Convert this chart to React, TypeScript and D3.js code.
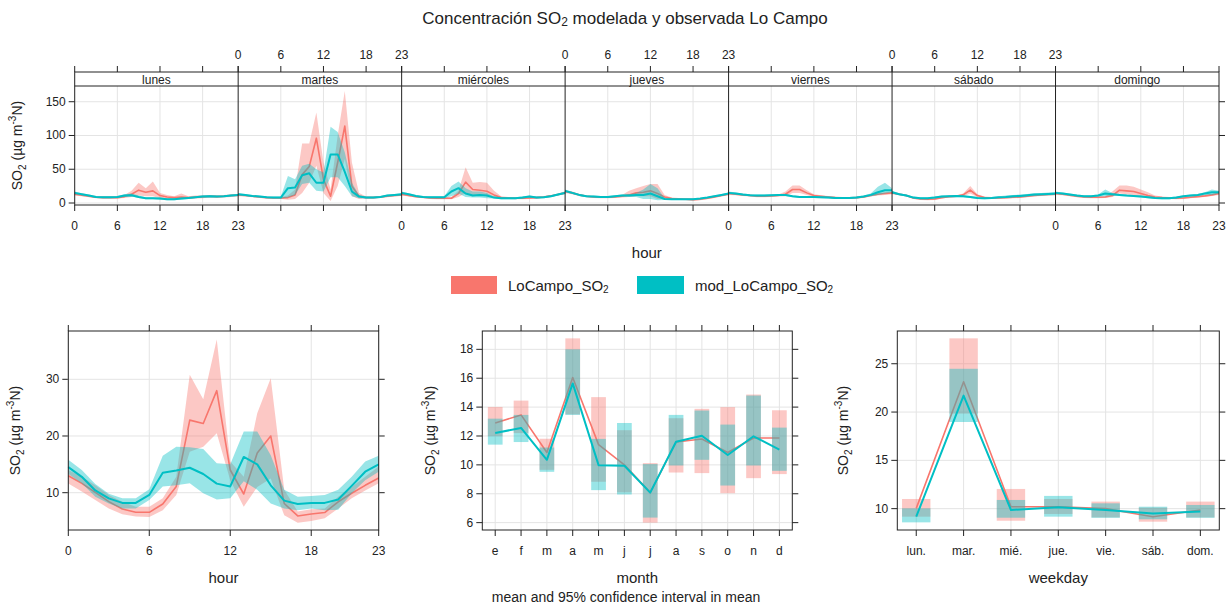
import React from "react";
import * as d3 from "d3";

// ---------------- DATA ----------------
const days = ["lunes", "martes", "miércoles", "jueves", "viernes", "sábado", "domingo"];
const hours = [0, 1, 2, 3, 4, 5, 6, 7, 8, 9, 10, 11, 12, 13, 14, 15, 16, 17, 18, 19, 20, 21, 22, 23];
const hourTicks = [0, 6, 12, 18, 23];
const topYTicks = [0, 50, 100, 150];

// observed (LoCampo_SO2) by weekday x hour
const obsLunes = [13, 11.5, 10, 8.5, 8, 8, 8, 9.5, 13, 19, 16, 18, 11, 9, 8, 9, 8, 8.5, 9, 10, 9.5, 10, 11, 11.5];
const obsLunesLo = [11, 10, 8.5, 7, 6.5, 6.5, 6.5, 7.5, 9, 11, 10, 10, 7, 6.5, 6, 6, 6, 6.5, 7, 8, 7.5, 8, 9, 9.5];
const obsLunesHi = [15, 13, 11.5, 10, 9.5, 9.5, 9.5, 12, 18, 30, 22, 32, 15, 12, 10, 14, 10, 11, 11.5, 12, 11.5, 12, 13, 13.5];
const obsMartes = [12, 11, 10, 9, 8, 7.5, 7.5, 8, 12, 42, 54, 96, 35, 10, 60, 114, 25, 10, 8, 8, 9, 10, 11, 12];
const obsMartesLo = [10, 9.5, 8.5, 7.5, 6.5, 6, 6, 5, 6, 15, 30, 55, 15, 3, 25, 65, 10, 6, 6.5, 6.5, 7.5, 8.5, 9.5, 10.5];
const obsMartesHi = [14, 12.5, 11.5, 10.5, 9.5, 9, 9, 11, 20, 88, 88, 134, 60, 20, 100, 166, 60, 15, 9.5, 9.5, 10.5, 11.5, 12.5, 13.5];
const obsMiercoles = [13, 11, 9.5, 8.5, 7.5, 7, 7, 7, 14, 31, 20, 19, 17.5, 12, 8, 7.5, 7, 7, 7.5, 8, 9, 10.5, 12.5, 15];
const obsMiercolesLo = [11, 9.5, 8, 7, 6, 5.5, 5.5, 5.5, 9, 15, 12, 12, 10, 7, 6, 6, 5.5, 5.5, 6, 6.5, 7.5, 9, 11, 13];
const obsMiercolesHi = [15, 12.5, 11, 10, 9, 8.5, 8.5, 9, 18, 53, 30, 31, 30, 18, 10, 9, 8.5, 8.5, 9, 9.5, 10.5, 12, 14, 17];
const obsJueves = [17, 15, 12, 10, 9, 8.5, 8.5, 9, 10, 12, 15, 16, 18, 14, 9, 6.5, 6, 5.5, 5, 5.5, 7, 9, 11, 13];
const obsJuevesLo = [15, 13, 10.5, 8.5, 7.5, 7, 7, 7.5, 8, 9, 10, 10, 10, 6, 6, 5, 4.5, 4, 3.5, 4, 5.5, 7.5, 9.5, 11.5];
const obsJuevesHi = [19, 17, 13.5, 11.5, 10.5, 10, 10, 10.5, 12, 18, 22, 25, 28, 28, 12, 8, 7.5, 7, 6.5, 7, 8.5, 10.5, 12.5, 14.5];
const obsViernes = [14, 13, 12, 11, 10, 10, 10.5, 11, 13, 20, 20, 15, 11, 10, 9, 8, 7.5, 7.5, 8, 9, 11, 13, 14, 15];
const obsViernesLo = [12, 11.5, 10.5, 9.5, 8.5, 8.5, 9, 9.5, 10, 15, 15, 12, 9, 8.5, 7.5, 6.5, 6, 6, 6.5, 7.5, 9.5, 11, 12, 13];
const obsViernesHi = [16, 14.5, 13.5, 12.5, 11.5, 11.5, 12, 12.5, 17, 26, 26, 19, 13, 11.5, 10.5, 9.5, 9, 9, 9.5, 10.5, 12.5, 15, 16, 17];
const obsSabado = [15, 13, 11, 7.5, 6, 5.5, 6, 8, 9.5, 10, 12, 19, 11, 8, 7.5, 7.5, 8, 8.5, 9, 10, 11, 12, 12.5, 13];
const obsSabadoLo = [13, 11.5, 9.5, 6, 4.5, 4, 4.5, 6.5, 8, 8.5, 10, 14, 9, 6.5, 6, 6, 6.5, 7, 7.5, 8.5, 9.5, 10.5, 11, 11.5];
const obsSabadoHi = [17, 14.5, 12.5, 9, 7.5, 7, 7.5, 9.5, 11, 11.5, 14, 25, 13, 9.5, 9, 9, 9.5, 10, 10.5, 11.5, 12.5, 13.5, 14, 14.5];
const obsDomingo = [14, 13, 11.5, 10, 9, 8.5, 8.5, 9, 11, 19, 18, 17, 14, 11, 9, 8, 7.5, 7, 7.5, 8.5, 9.5, 10.5, 12, 14];
const obsDomingoLo = [12, 11.5, 10, 8.5, 7.5, 7, 7, 7.5, 9, 14, 13, 12, 10, 8.5, 7.5, 6.5, 6, 5.5, 6, 7, 8, 9, 10.5, 12];
const obsDomingoHi = [16, 14.5, 13, 11.5, 10.5, 10, 10, 10.5, 17, 26, 26, 24, 20, 16, 11, 9.5, 9, 8.5, 9, 10, 11, 12, 13.5, 16];

// modelled (mod_LoCampo_SO2) by weekday x hour
const modLunes = [15, 13, 11, 9, 8.5, 8.5, 9, 11, 11.5, 9, 7, 7, 6.5, 5.5, 5.5, 6.5, 7.5, 8.5, 9.5, 10, 9.5, 10, 11, 12];
const modLunesLo = [13, 11.5, 9.5, 7.5, 7, 7, 7.5, 9, 9.5, 7.5, 5.5, 5.5, 5, 4, 4, 5, 6, 7, 8, 8.5, 8, 8.5, 9.5, 10.5];
const modLunesHi = [17, 14.5, 12.5, 10.5, 10, 10, 10.5, 13, 14, 11, 8.5, 8.5, 8, 7, 7, 8, 9, 10, 11.5, 12, 11, 11.5, 12.5, 13.5];
const modMartes = [13, 12, 10.5, 9.5, 8.5, 8, 8, 22, 23, 41, 44, 30, 30, 72, 72, 46, 17, 9.5, 8, 8, 9, 11, 12, 13];
const modMartesLo = [11.5, 10.5, 9, 8, 7, 6.5, 6.5, 8, 12, 28, 30, 18, 17, 38, 38, 25, 10, 7, 6.5, 6.5, 7.5, 9.5, 10.5, 11.5];
const modMartesHi = [14.5, 13.5, 12, 11, 10, 9.5, 9.5, 40, 35, 55, 58, 50, 45, 113, 105, 75, 30, 12, 9.5, 9.5, 10.5, 12.5, 13.5, 14.5];
const modMiercoles = [15, 13, 10.5, 9, 8.5, 8.5, 8.5, 17, 22, 14, 11, 12, 11, 8, 7, 7, 7, 8, 9.5, 8, 8.5, 10, 12.5, 15];
const modMiercolesLo = [13, 11.5, 9, 7.5, 7, 7, 7, 10, 14, 9, 8, 8, 7, 6.5, 5.5, 5.5, 5.5, 6.5, 8, 6.5, 7, 8.5, 11, 13];
const modMiercolesHi = [17, 14.5, 12, 10.5, 10, 10, 10, 25, 32, 22, 17, 17, 15, 9.5, 8.5, 8.5, 8.5, 9.5, 11, 9.5, 10, 11.5, 14, 17];
const modJueves = [18, 15, 12, 10, 9.5, 9, 9, 10, 11, 11, 12, 12, 14, 10, 6, 5.5, 5.5, 5.5, 5.5, 6.5, 8, 10, 12, 14];
const modJuevesLo = [16, 13.5, 10.5, 8.5, 8, 7.5, 7.5, 8.5, 9.5, 9, 9, 6, 6, 4, 4.5, 4.5, 4.5, 4.5, 4.5, 5.5, 7, 8.5, 10.5, 12.5];
const modJuevesHi = [20, 16.5, 13.5, 11.5, 11, 10.5, 10.5, 11.5, 12.5, 13, 15, 20, 28, 22, 7.5, 6.5, 6.5, 6.5, 6.5, 7.5, 9, 11.5, 13.5, 15.5];
const modViernes = [15, 14, 12.5, 11.5, 11, 11, 11.5, 12, 12, 10, 9, 9, 9, 8.5, 8, 7.5, 7.5, 7.5, 8, 9.5, 12, 16, 19, 19];
const modViernesLo = [13, 12.5, 11, 10, 9.5, 9.5, 10, 10.5, 10.5, 8.5, 7.5, 7.5, 7.5, 7, 6.5, 6, 6, 6, 6.5, 8, 10, 12, 14, 16];
const modViernesHi = [17, 15.5, 14, 13, 12.5, 12.5, 13, 13.5, 13.5, 11.5, 10.5, 10.5, 10.5, 10, 9.5, 9, 9, 9, 9.5, 11, 14, 24, 30, 22];
const modSabado = [16, 13, 11, 8, 7, 7, 8, 9.5, 10, 10.5, 10, 9, 7.5, 7, 7.5, 8.5, 9, 10, 10.5, 11.5, 12.5, 13, 13.5, 14];
const modSabadoLo = [14, 11.5, 9.5, 6.5, 5.5, 5.5, 6.5, 8, 8.5, 9, 8.5, 7.5, 6, 5.5, 6, 7, 7.5, 8, 8.5, 9.5, 10.5, 11, 11.5, 12];
const modSabadoHi = [18, 14.5, 12.5, 9.5, 8.5, 8.5, 9.5, 11, 11.5, 12, 11.5, 10.5, 9, 8.5, 9, 10, 11, 12, 12.5, 13.5, 14.5, 15, 15.5, 16];
const modDomingo = [15, 14, 12.5, 11, 10, 10, 11, 14, 13, 12, 11, 10.5, 9.5, 8.5, 7.5, 7, 7, 8, 10, 11, 12, 14, 16, 16];
const modDomingoLo = [13, 12.5, 11, 9.5, 8.5, 8.5, 9.5, 10, 11, 10.5, 9.5, 9, 8, 7, 6, 5.5, 5.5, 6.5, 8.5, 9.5, 10.5, 12, 12, 14];
const modDomingoHi = [17, 15.5, 14, 12.5, 11.5, 11.5, 12.5, 20, 15, 13.5, 12.5, 12, 11, 10, 9, 8.5, 8.5, 9.5, 11.5, 12.5, 13.5, 16, 20, 18];

// hourly (all days)
const obsHour = [13.0, 11.65, 10.07, 8.42, 7.13, 6.54, 6.54, 8.0, 11.1, 22.8, 22.2, 28.0, 14.0, 9.77, 17.0, 20.0, 8.1, 5.9, 6.25, 6.5, 8.4, 9.9, 11.3, 12.6];
const obsHourLo = [11.6, 10.2, 8.7, 7.2, 6.2, 5.8, 5.7, 6.9, 9.6, 17.2, 18.1, 20.5, 12.2, 7.5, 11.0, 12.5, 6.0, 4.7, 5.0, 5.5, 7.2, 9.0, 10.4, 11.65];
const obsHourHi = [14.0, 12.8, 11.3, 9.6, 8.4, 7.5, 7.5, 9.0, 12.8, 30.8, 26.5, 37.0, 15.5, 12.8, 24.0, 30.2, 10.5, 6.7, 7.1, 7.2, 9.3, 11.0, 12.8, 14.6];
const modHour = [14.5, 12.8, 10.4, 9.0, 8.2, 8.2, 9.6, 13.5, 13.9, 14.4, 13.3, 11.6, 11.1, 16.3, 15.0, 11.3, 8.6, 8.0, 8.2, 8.2, 8.8, 11.2, 13.7, 15.0];
const modHourLo = [13.3, 11.65, 9.3, 8.1, 7.2, 7.2, 8.7, 11.1, 11.3, 11.65, 9.9, 8.8, 9.0, 12.0, 10.5, 8.1, 7.2, 6.9, 7.2, 6.9, 7.0, 9.9, 12.2, 13.7];
const modHourHi = [15.8, 14.0, 11.55, 9.8, 9.0, 9.0, 10.6, 16.5, 18.1, 18.0, 17.7, 15.2, 15.0, 20.8, 20.8, 16.6, 10.5, 9.3, 9.4, 9.6, 10.5, 12.8, 15.5, 16.5];
const hourYTicks = [10, 20, 30];

// monthly
const months = ["e", "f", "m", "a", "m", "j", "j", "a", "s", "o", "n", "d"];
const obsMonth = [12.9, 13.46, 10.86, 16.05, 11.4, 10.0, 8.08, 11.58, 11.79, 10.86, 11.86, 11.86];
const obsMonthLo = [11.98, 12.2, 9.66, 13.5, 8.83, 8.1, 6.0, 9.47, 9.43, 8.04, 9.08, 9.36];
const obsMonthHi = [14.01, 14.45, 11.81, 18.76, 14.69, 12.4, 10.12, 13.23, 13.88, 14.0, 14.87, 13.78];
const modMonth = [12.2, 12.56, 10.35, 15.64, 9.98, 9.94, 8.08, 11.6, 12.02, 10.68, 11.98, 11.05];
const modMonthLo = [11.4, 11.58, 9.52, 13.46, 8.25, 7.95, 6.35, 9.96, 10.35, 8.57, 9.96, 9.59];
const modMonthHi = [13.2, 13.46, 11.2, 18.0, 11.8, 12.9, 10.05, 13.46, 13.76, 12.79, 14.8, 12.58];
const monthYTicks = [6, 8, 10, 12, 14, 16, 18];

// weekday
const weekdays = ["lun.", "mar.", "mié.", "jue.", "vie.", "sáb.", "dom."];
const obsWd = [10.03, 23.13, 10.2, 10.2, 10.0, 9.17, 9.86];
const obsWdLo = [9.17, 19.84, 8.75, 9.45, 9.1, 8.65, 9.1];
const obsWdHi = [11.0, 27.63, 12.04, 11.0, 10.73, 10.1, 10.73];
const modWd = [9.17, 21.7, 9.86, 10.14, 9.86, 9.5, 9.7];
const modWdLo = [8.58, 18.97, 9.06, 9.17, 9.05, 8.9, 9.05];
const modWdHi = [10.03, 24.48, 10.9, 11.32, 10.55, 10.2, 10.38];
const wdYTicks = [10, 15, 20, 25];

const obsDays = [
  [obsLunes, obsLunesLo, obsLunesHi], [obsMartes, obsMartesLo, obsMartesHi], [obsMiercoles, obsMiercolesLo, obsMiercolesHi],
  [obsJueves, obsJuevesLo, obsJuevesHi], [obsViernes, obsViernesLo, obsViernesHi], [obsSabado, obsSabadoLo, obsSabadoHi],
  [obsDomingo, obsDomingoLo, obsDomingoHi],
];
const modDays = [
  [modLunes, modLunesLo, modLunesHi], [modMartes, modMartesLo, modMartesHi], [modMiercoles, modMiercolesLo, modMiercolesHi],
  [modJueves, modJuevesLo, modJuevesHi], [modViernes, modViernesLo, modViernesHi], [modSabado, modSabadoLo, modSabadoHi],
  [modDomingo, modDomingoLo, modDomingoHi],
];

// ---------------- STYLE ----------------
const FONT = "'Liberation Sans', Arial, Helvetica, sans-serif";
const RED = "#F8766D";
const TEAL = "#00BFC4";
const TXT = "#222";
const AX = "#222";
const GRID = "#e4e4e4";
const FILL_OP = 0.4;

function YLabel({ x, y }: { x: number; y: number }) {
  return (
    <text transform={`translate(${x},${y}) rotate(-90)`} textAnchor="middle" fontSize={14} fill={TXT} fontFamily={FONT}>
      SO<tspan dy={4} fontSize={10}>2</tspan>
      <tspan dy={-4}> (µg m</tspan>
      <tspan dy={-6} fontSize={10}>-3</tspan>
      <tspan dy={6}>N)</tspan>
    </text>
  );
}

function Band({ xs, ys, lo, hi, color }: any) {
  const area = d3.area<number>()
    .x((_, k) => xs(hours[k]))
    .y0((_, k) => ys(lo[k]))
    .y1((_, k) => ys(hi[k]));
  return <path d={area(hours) || ""} fill={color} fillOpacity={FILL_OP} stroke="none" />;
}
function Line({ xs, ys, vals, color, w }: any) {
  const line = d3.line<number>().x((_, k) => xs(hours[k])).y((_, k) => ys(vals[k]));
  return <path d={line(hours) || ""} fill="none" stroke={color} strokeWidth={w} strokeLinejoin="round" />;
}

// ---------------- TOP PANEL ----------------
function TopPanel() {
  const L = 74.7, R = 1219, Y0 = 86, Y1 = 205, ST = 72;
  const pw = (R - L) / 7;
  const ys = d3.scaleLinear().domain([-2.96, 173.3]).range([Y1, Y0]);
  const els: any[] = [];
  days.forEach((d, i) => {
    const xs = d3.scaleLinear().domain([0, 23]).range([L + i * pw, L + (i + 1) * pw]);
    topYTicks.forEach((t) => els.push(<line key={`gh${i}-${t}`} x1={L + i * pw} x2={L + (i + 1) * pw} y1={ys(t)} y2={ys(t)} stroke={GRID} strokeWidth={1} />));
    [6, 12, 18].forEach((t) => els.push(<line key={`gv${i}-${t}`} x1={xs(t)} x2={xs(t)} y1={Y0} y2={Y1} stroke={GRID} strokeWidth={1} />));
    const [om, ol, oh] = obsDays[i];
    const [mm, ml, mh] = modDays[i];
    els.push(<Band key={`ob${i}`} xs={xs} ys={ys} lo={ol} hi={oh} color={RED} />);
    els.push(<Line key={`ol${i}`} xs={xs} ys={ys} vals={om} color={RED} w={1.6} />);
    els.push(<Band key={`mb${i}`} xs={xs} ys={ys} lo={ml} hi={mh} color={TEAL} />);
    els.push(<Line key={`ml${i}`} xs={xs} ys={ys} vals={mm} color={TEAL} w={2} />);
    hourTicks.forEach((t) => {
      els.push(<line key={`tb${i}-${t}`} x1={xs(t)} x2={xs(t)} y1={Y1} y2={Y1 + 6} stroke={AX} />);
      els.push(<line key={`tt${i}-${t}`} x1={xs(t)} x2={xs(t)} y1={ST} y2={ST - 6} stroke={AX} />);
      if (i % 2 === 0)
        els.push(<text key={`lb${i}-${t}`} x={xs(t)} y={Y1 + 21} textAnchor="middle" dominantBaseline="central" fontSize={12} fill={TXT}>{t}</text>);
      else
        els.push(<text key={`lt${i}-${t}`} x={xs(t)} y={ST - 17} textAnchor="middle" dominantBaseline="central" fontSize={12} fill={TXT}>{t}</text>);
    });
    els.push(<text key={`st${i}`} x={L + (i + 0.5) * pw} y={(ST + Y0) / 2 + 0.5} textAnchor="middle" dominantBaseline="central" fontSize={12} fill={TXT}>{d}</text>);
    if (i > 0) els.push(<line key={`sep${i}`} x1={L + i * pw} x2={L + i * pw} y1={ST} y2={Y1} stroke={AX} strokeWidth={1} />);
  });
  topYTicks.forEach((t) => {
    els.push(<line key={`yl${t}`} x1={L - 6} x2={L} y1={ys(t)} y2={ys(t)} stroke={AX} />);
    els.push(<line key={`yr${t}`} x1={R} x2={R + 6} y1={ys(t)} y2={ys(t)} stroke={AX} />);
    els.push(<text key={`ylt${t}`} x={L - 9} y={ys(t)} textAnchor="end" dominantBaseline="central" fontSize={12} fill={TXT}>{t}</text>);
  });
  return (
    <g fontFamily={FONT}>
      {els}
      <rect x={L} y={ST} width={R - L} height={Y1 - ST} fill="none" stroke={AX} strokeWidth={1} />
      <line x1={L} x2={R} y1={Y0} y2={Y0} stroke={AX} />
      <YLabel x={22} y={(Y0 + Y1) / 2} />
      <text x={(L + R) / 2} y={252} textAnchor="middle" dominantBaseline="central" fontSize={15} fill={TXT}>hour</text>
    </g>
  );
}

// ---------------- BOTTOM PANELS ----------------
const BT = 331, BB = 530;

function Frame({ L, R, xTicks, xLabels, xs, ys, yTicks, title, yl }: any) {
  const els: any[] = [];
  yTicks.forEach((t: number) => {
    els.push(<line key={`gh${t}`} x1={L} x2={R} y1={ys(t)} y2={ys(t)} stroke={GRID} />);
    els.push(<line key={`tl${t}`} x1={L - 6} x2={L} y1={ys(t)} y2={ys(t)} stroke={AX} />);
    els.push(<line key={`tr${t}`} x1={R} x2={R + 6} y1={ys(t)} y2={ys(t)} stroke={AX} />);
    els.push(<text key={`yt${t}`} x={L - 9} y={ys(t)} textAnchor="end" dominantBaseline="central" fontSize={12} fill={TXT}>{t}</text>);
  });
  xTicks.forEach((t: number, k: number) => {
    els.push(<line key={`gv${k}`} x1={xs(t)} x2={xs(t)} y1={BT} y2={BB} stroke={GRID} />);
    els.push(<line key={`tb${k}`} x1={xs(t)} x2={xs(t)} y1={BB} y2={BB + 6} stroke={AX} />);
    els.push(<line key={`tt${k}`} x1={xs(t)} x2={xs(t)} y1={BT} y2={BT - 6} stroke={AX} />);
    els.push(<text key={`xt${k}`} x={xs(t)} y={BB + 21} textAnchor="middle" dominantBaseline="central" fontSize={12} fill={TXT}>{xLabels[k]}</text>);
  });
  return (
    <g>
      {els}
      <YLabel x={yl} y={(BT + BB) / 2} />
      <text x={(L + R) / 2} y={577} textAnchor="middle" dominantBaseline="central" fontSize={15} fill={TXT}>{title}</text>
    </g>
  );
}

function HourPanel() {
  const L = 68.3, R = 378.7;
  const xs = d3.scaleLinear().domain([0, 23]).range([L, R]);
  const ys = d3.scaleLinear().domain([3.42, 38.52]).range([BB, BT]);
  return (
    <g fontFamily={FONT}>
      <Frame L={L} R={R} xTicks={hourTicks} xLabels={hourTicks} xs={xs} ys={ys} yTicks={hourYTicks} title="hour" yl={20} />
      <Band xs={xs} ys={ys} lo={obsHourLo} hi={obsHourHi} color={RED} />
      <Line xs={xs} ys={ys} vals={obsHour} color={RED} w={1.6} />
      <Band xs={xs} ys={ys} lo={modHourLo} hi={modHourHi} color={TEAL} />
      <Line xs={xs} ys={ys} vals={modHour} color={TEAL} w={2} />
      <rect x={L} y={BT} width={R - L} height={BB - BT} fill="none" stroke={AX} />
    </g>
  );
}

function CatPanel({ L, R, cats, dom, ys, yTicks, title, yl, bw, series }: any) {
  const xs = d3.scaleLinear().domain(dom).range([L, R]);
  const idx = cats.map((_: any, k: number) => k + 1);
  const parts: any[] = [];
  series.forEach(([m, lo, hi, color, w]: any, s: number) => {
    idx.forEach((k: number, j: number) => {
      parts.push(<rect key={`r${s}-${j}`} x={xs(k - bw / 2)} width={xs(k + bw / 2) - xs(k - bw / 2)} y={ys(hi[j])} height={ys(lo[j]) - ys(hi[j])} fill={color} fillOpacity={FILL_OP} />);
    });
    const lg = d3.line<number>().x((k) => xs(k)).y((_, j) => ys(m[j]));
    parts.push(<path key={`l${s}`} d={lg(idx) || ""} fill="none" stroke={color} strokeWidth={w} strokeLinejoin="round" />);
  });
  return (
    <g fontFamily={FONT}>
      <Frame L={L} R={R} xTicks={idx} xLabels={cats} xs={xs} ys={ys} yTicks={yTicks} title={title} yl={yl} />
      {parts}
      <rect x={L} y={BT} width={R - L} height={BB - BT} fill="none" stroke={AX} />
    </g>
  );
}

export default function App() {
  const ysM = d3.scaleLinear().domain([5.49, 19.27]).range([BB, BT]);
  const ysW = d3.scaleLinear().domain([7.79, 28.39]).range([BB, BT]);
  return (
    <div style={{ position: "absolute", left: 0, top: 0 }}>
      <svg width={1230} height={608} style={{ display: "block", background: "#fff" }} fontFamily={FONT}>
        <text x={625} y={18} textAnchor="middle" dominantBaseline="central" fontSize={17} fill={TXT}>
          Concentración SO<tspan dy={4} fontSize={12}>2</tspan><tspan dy={-4}> modelada y observada Lo Campo</tspan>
        </text>
        <TopPanel />
        {/* legend */}
        <rect x={451} y={276} width={46} height={18} fill={RED} />
        <text x={508} y={285} dominantBaseline="central" fontSize={15} fill={TXT}>
          LoCampo_SO<tspan dy={4} fontSize={10}>2</tspan>
        </text>
        <rect x={637} y={276} width={47} height={18} fill={TEAL} />
        <text x={695} y={285} dominantBaseline="central" fontSize={15} fill={TXT}>
          mod_LoCampo_SO<tspan dy={4} fontSize={10}>2</tspan>
        </text>
        <HourPanel />
        <CatPanel L={482.3} R={792.3} cats={months} dom={[0.5, 12.5]} ys={ysM} yTicks={monthYTicks} title="month" yl={435} bw={0.57}
          series={[[obsMonth, obsMonthLo, obsMonthHi, RED, 1.6], [modMonth, modMonthLo, modMonthHi, TEAL, 2]]} />
        <text x={626} y={597} textAnchor="middle" dominantBaseline="central" fontSize={14} fill={TXT}>mean and 95% confidence interval in mean</text>
        <CatPanel L={897.3} R={1219.3} cats={weekdays} dom={[0.6, 7.4]} ys={ysW} yTicks={wdYTicks} title="weekday" yl={848} bw={0.6}
          series={[[obsWd, obsWdLo, obsWdHi, RED, 1.6], [modWd, modWdLo, modWdHi, TEAL, 2]]} />
      </svg>
    </div>
  );
}
